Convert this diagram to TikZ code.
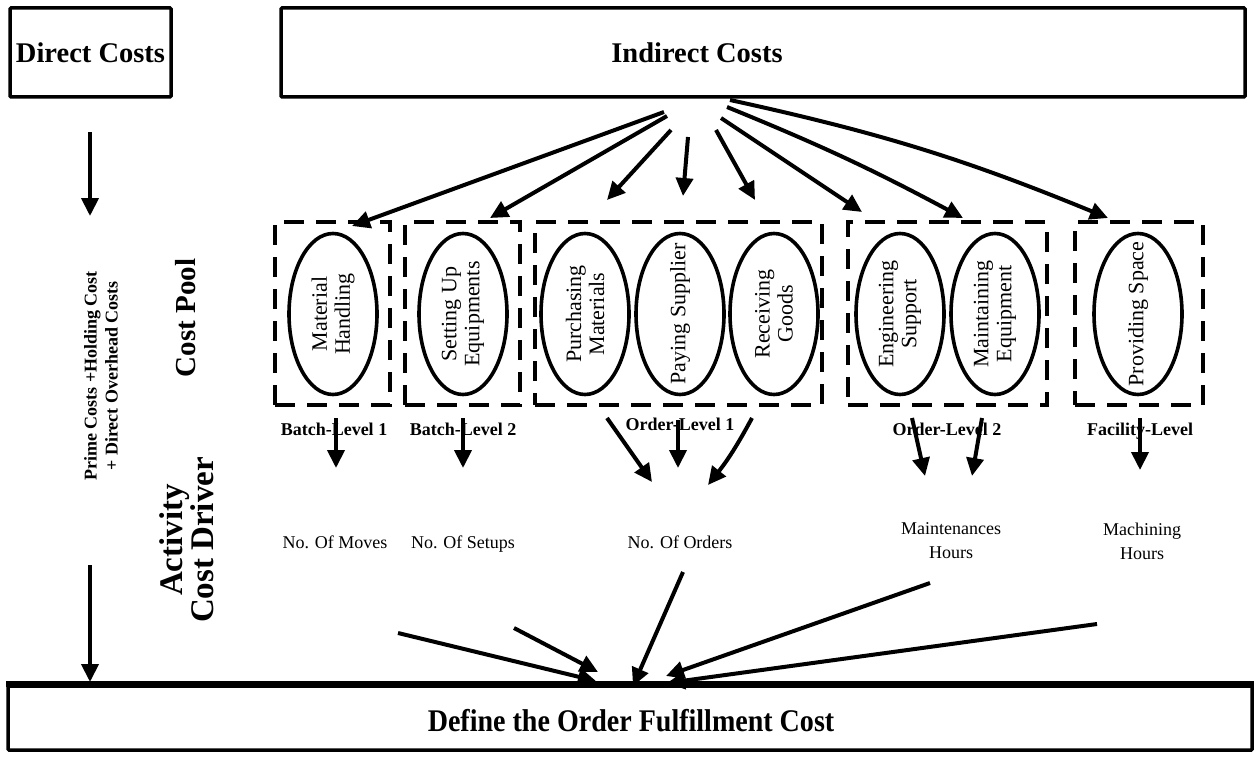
\documentclass[tikz,border=0pt]{standalone}
\usepackage{fontspec}
\setmainfont{Liberation Serif}
\usetikzlibrary{arrows.meta,shapes.geometric}
\begin{document}
\begin{tikzpicture}[x=1pt,y=-1pt,
  box/.style={draw, line width=3.5pt, rounded corners=1pt, inner sep=0pt},
  pool/.style={draw, line width=3.8pt, dash pattern=on 20pt off 12pt, minimum height=183pt, inner sep=0pt},
  act/.style={draw, ellipse, line width=3.6pt, minimum width=88pt, minimum height=161pt, inner sep=0pt},
  acttxt/.style={rotate=90, align=center, inner sep=0pt, font=\fontsize{22}{23}\selectfont},
  arr/.style={line width=4pt, -{Triangle[length=18pt,width=17pt]}},
  lvl/.style={font=\bfseries\fontsize{18}{20}\selectfont},
  drv/.style={font=\fontsize{18}{24}\selectfont, align=center},
  big/.style={font=\bfseries\fontsize{28.5}{32}\selectfont},
]
\useasboundingbox (0,0) rectangle (1257,757);

% top boxes
\node[box, minimum width=161pt, minimum height=89pt, big] (direct) at (90.5,52.5) {Direct Costs};
\node[box, minimum width=964pt, minimum height=89pt] (indirect) at (763,52.5) {};
\node[big] (indirectlbl) at (697,52.5) {Indirect Costs};

% bottom box
\node[box, minimum width=1244pt, minimum height=64pt] (final) at (630,718) {};
\draw[line width=6pt] (final.north west) -- (final.north east);
\node[font=\bfseries\fontsize{31.5}{34}\selectfont, xscale=0.89] (finallbl) at (631,721) {Define the Order Fulfillment Cost};

% left side texts
\node[rotate=90, align=center, font=\bfseries\fontsize{18}{21}\selectfont] (prime) at (101,376) {Prime Costs +Holding Cost\\+ Direct Overhead Costs};
\node[rotate=90, font=\bfseries\fontsize{29}{32}\selectfont] (costpool) at (186,318) {Cost Pool};
\node[rotate=90, align=center, font=\bfseries\fontsize{33}{31}\selectfont] (acd) at (187,540) {Activity\\Cost Driver};

% cost pools
\node[pool, minimum width=115pt] (pA) at (332.5,313.5) {};
\node[pool, minimum width=115pt] (pB) at (462.5,313.5) {};
\node[pool, minimum width=287pt] (pC) at (678.5,313.5) {};
\node[pool, minimum width=199pt] (pD) at (947.5,313.5) {};
\node[pool, minimum width=128pt] (pE) at (1139,313.5) {};

% activities
\node[act] (e1) at (333,314) {};
\node[act] (e2) at (463,314) {};
\node[act] (e3) at (585,314) {};
\node[act] (e4) at (680,314) {};
\node[act] (e5) at (774,314) {};
\node[act] (e6) at (900,314) {};
\node[act] (e7) at (995,314) {};
\node[act] (e8) at (1138,314) {};
\node[acttxt] (e1t) at (e1) {Material\\Handling};
\node[acttxt] (e2t) at (e2) {Setting Up\\Equipments};
\node[acttxt] (e3t) at (e3) {Purchasing\\Materials};
\node[acttxt] (e4t) at (e4) {Paying Supplier};
\node[acttxt] (e5t) at (e5) {Receiving\\Goods};
\node[acttxt] (e6t) at (e6) {Engineering\\Support};
\node[acttxt] (e7t) at (e7) {Maintaining\\Equipment};
\node[acttxt] (e8t) at (e8) {Providing Space};

% level labels
\node[lvl] (lA) at (334,429) {Batch-Level 1};
\node[lvl] (lB) at (463,429) {Batch-Level 2};
\node[lvl] (lC) at (680,424) {Order-Level 1};
\node[lvl] (lD) at (947,429) {Order-Level 2};
\node[lvl] (lE) at (1140,431) {Facility-Level};

% drivers
\node[drv] (dA) at (335,542) {No. Of Moves};
\node[drv] (dB) at (463,544) {No. Of Setups};
\node[drv] (dC) at (680,542) {No. Of Orders};
\node[drv] (dD) at (951,541) {Maintenances\\Hours};
\node[drv] (dE) at (1142,541) {Machining\\Hours};

% coordinates for free arrow ends
\coordinate (l1s) at (90,132);  \coordinate (l1e) at (90,216);
\coordinate (l2s) at (90,565);  \coordinate (l2e) at (90,682);
\coordinate (t1s) at (664,112); \coordinate (t1e) at (352,226);
\coordinate (t2s) at (667,116); \coordinate (t2e) at (490,218);
\coordinate (t3s) at (671,130); \coordinate (t3e) at (607,200);
\coordinate (t4s) at (688,137); \coordinate (t4e) at (683,196);
\coordinate (t5s) at (716,130); \coordinate (t5e) at (755,200);
\coordinate (t6s) at (721,118); \coordinate (t6e) at (862,212);
\coordinate (t7s) at (727,107); \coordinate (t7e) at (963,218);
\coordinate (t8s) at (730,100); \coordinate (t8e) at (1108,218);
\coordinate (c1s) at (336,418); \coordinate (c1e) at (336,468);
\coordinate (c2s) at (463,418); \coordinate (c2e) at (463,468);
\coordinate (c3s) at (607,418); \coordinate (c3e) at (652,482);
\coordinate (c4s) at (678,420); \coordinate (c4e) at (678,468);
\coordinate (c5s) at (752,418); \coordinate (c5e) at (708,485);
\coordinate (c6s) at (912,418); \coordinate (c6e) at (925,476);
\coordinate (c7s) at (982,418); \coordinate (c7e) at (972,476);
\coordinate (c8s) at (1140,418); \coordinate (c8e) at (1140,470);
\coordinate (b1s) at (398,633); \coordinate (b1e) at (596,681);
\coordinate (b2s) at (514,628); \coordinate (b2e) at (598,672);
\coordinate (b3s) at (683,572); \coordinate (b3e) at (633,686);
\coordinate (b4s) at (930,583); \coordinate (b4e) at (666,676);
\coordinate (b5s) at (1097,624); \coordinate (b5e) at (667,683);

% arrows
\draw[arr] (l1s) -- (l1e);
\draw[arr] (l2s) -- (l2e);
\draw[arr] (t1s) -- (t1e);
\draw[arr] (t2s) -- (t2e);
\draw[arr] (t3s) -- (t3e);
\draw[arr] (t4s) -- (t4e);
\draw[arr] (t5s) -- (t5e);
\draw[arr] (t6s) -- (t6e);
\draw[arr] (t7s) to[bend left=3] (t7e);
\draw[arr] (t8s) to[bend left=5] (t8e);
\draw[arr] (c1s) -- (c1e);
\draw[arr] (c2s) -- (c2e);
\draw[arr] (c3s) -- (c3e);
\draw[arr] (c4s) -- (c4e);
\draw[arr] (c5s) to[bend left=5] (c5e);
\draw[arr] (c6s) -- (c6e);
\draw[arr] (c7s) -- (c7e);
\draw[arr] (c8s) -- (c8e);
\draw[arr] (b1s) -- (b1e);
\draw[arr] (b2s) -- (b2e);
\draw[arr] (b3s) -- (b3e);
\draw[arr] (b4s) -- (b4e);
\draw[arr] (b5s) -- (b5e);
\end{tikzpicture}
\end{document}
